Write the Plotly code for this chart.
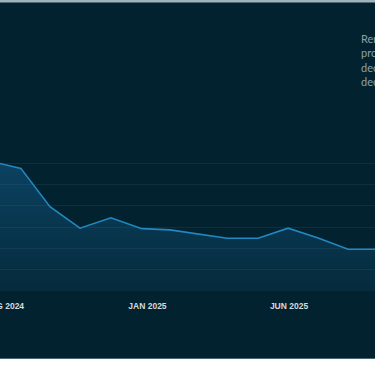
import plotly.graph_objects as go

# ---- data ----
dates = ["2024-07-18", "2024-08-19", "2024-09-19", "2024-10-21", "2024-11-23",
         "2024-12-26", "2025-01-25", "2025-02-24", "2025-03-27", "2025-04-29",
         "2025-05-31", "2025-07-02", "2025-08-03", "2025-09-05"]
values = [6.09, 5.76, 3.96, 2.95, 3.44, 2.93, 2.87, 2.68, 2.48, 2.48,
          2.95, 2.49, 1.96, 1.96]
tick_vals = ["2024-08-01", "2025-01-01", "2025-06-01"]
tick_text = ["AUG 2024", "JAN 2025", "JUN 2025"]
note_text = "Remaining<br>probability<br>decreased<br>decline"

BG = "#03222f"
W, H = 375, 366
T, B = 142, 75          # plot area from y=142 to y=291
PH = H - T - B


def py(p):
    """pixel row -> paper y"""
    return (H - B - p) / PH


fig = go.Figure()
fig.add_trace(go.Scatter(
    x=dates, y=values, mode="lines",
    line=dict(color="#2288c0", width=1.6),
    fill="tozeroy",
    fillgradient=dict(type="vertical", start=0, stop=6.2,
                      colorscale=[[0, "rgba(25,120,180,0.10)"],
                                  [1, "rgba(25,120,180,0.38)"]]),
    hoverinfo="skip", showlegend=False,
))

fig.update_layout(
    width=W, height=H,
    margin=dict(l=0, r=0, t=T, b=B, pad=0, autoexpand=False),
    paper_bgcolor=BG, plot_bgcolor=BG,
    xaxis=dict(type="date", range=["2024-07-27 17:30", "2025-08-31 16:48"],
               tickvals=tick_vals, ticktext=tick_text, automargin=False,
               showgrid=False, zeroline=False, showline=False,
               ticks="", ticklabelstandoff=8, ticklabeloverflow="allow",
               tickfont=dict(family="Liberation Sans", size=8.5, color="#d3dbdf",
                             weight="bold")),
    yaxis=dict(range=[0, 7], dtick=1, showticklabels=False, automargin=False,
               showgrid=True, gridcolor="rgba(120,170,200,0.10)", gridwidth=1,
               zeroline=False, showline=False),
    shapes=[
        dict(type="rect", xref="paper", yref="paper", x0=0, x1=1,
             y0=py(2.5), y1=py(0), fillcolor="#9fb3bb", line=dict(width=0), layer="above"),
        dict(type="rect", xref="paper", yref="paper", x0=0, x1=1,
             y0=py(359), y1=py(358), fillcolor="#4a6670", line=dict(width=0), layer="above"),
        dict(type="rect", xref="paper", yref="paper", x0=0, x1=1,
             y0=py(366), y1=py(359), fillcolor="#ffffff", line=dict(width=0), layer="above"),
    ],
    annotations=[dict(
        text=note_text, xref="paper", yref="paper",
        x=359 / W, y=py(30), xanchor="left", yanchor="top", align="left",
        showarrow=False,
        font=dict(family="Lato", size=11, color="#8aa0aa"),
    )],
)

fig.write_html(
    "out.html",
    config={"displayModeBar": False},
    post_script="document.body.style.margin='0';document.body.style.overflow='hidden';",
)
